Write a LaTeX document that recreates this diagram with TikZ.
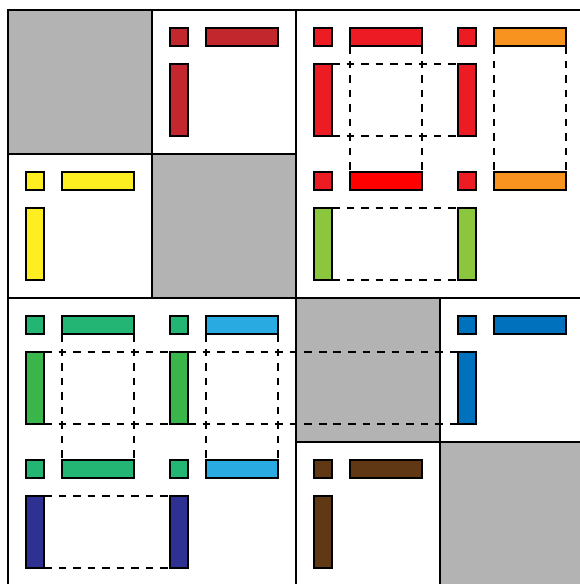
\documentclass[tikz,border=0pt]{standalone}
\usepackage{tikz}
\definecolor{dkred}{HTML}{C1272D}
\definecolor{rd}{HTML}{ED1C24}
\definecolor{brred}{HTML}{FF0000}
\definecolor{orng}{HTML}{F7931E}
\definecolor{ltgreen}{HTML}{8CC63F}
\definecolor{ylw}{HTML}{FCEE21}
\definecolor{teal}{HTML}{22B573}
\definecolor{grn}{HTML}{39B54A}
\definecolor{cyn}{HTML}{29ABE2}
\definecolor{navy}{HTML}{2E3192}
\definecolor{blu}{HTML}{0071BC}
\definecolor{brwn}{HTML}{603813}
\definecolor{cellgray}{HTML}{B3B3B3}

\begin{document}
\begin{tikzpicture}[x=0.5cm, y=-0.5cm,
  blk/.style={draw,line width=1.4pt,inner sep=0pt,outer sep=0pt},
  sq/.style={blk,fill=#1,minimum size=0.5cm},
  hb/.style={blk,fill=#1,minimum width=2cm,minimum height=0.5cm},
  vb/.style={blk,fill=#1,minimum width=0.5cm,minimum height=2cm},
  dsh/.style={line width=1.7pt,dash pattern=on 6pt off 5.5pt},
  grid/.style={line width=2.1pt}]
\useasboundingbox (-0.444,-0.556) rectangle (31.778,31.889);
\clip (-0.444,-0.556) rectangle (31.778,31.889);
\foreach \i in {0,8,16,24}
  \fill[cellgray] (\i,\i) rectangle ++(8,8);
\draw[grid] (0,0) rectangle (32,32);
\draw[grid] (16,0) -- (16,32);
\draw[grid] (0,16) -- (32,16);
\draw[grid] (8,0) -- (8,16);
\draw[grid] (0,8) -- (16,8);
\draw[grid] (24,16) -- (24,32);
\draw[grid] (16,24) -- (32,24);

% top left blocks
\node[sq=dkred] (a1) at (9.5,1.5) {};
\node[hb=dkred] (a2) at (13,1.5) {};
\node[vb=dkred] (a3) at (9.5,5) {};
\node[sq=ylw] (y1) at (1.5,9.5) {};
\node[hb=ylw] (y2) at (5,9.5) {};
\node[vb=ylw] (y3) at (1.5,13) {};

% top right
\node[sq=rd] (r1) at (17.5,1.5) {};
\node[hb=rd] (rh1) at (21,1.5) {};
\node[sq=rd] (r2) at (25.5,1.5) {};
\node[hb=orng] (oh1) at (29,1.5) {};
\node[vb=rd] (rv1) at (17.5,5) {};
\node[vb=rd] (rv2) at (25.5,5) {};
\node[sq=rd] (r3) at (17.5,9.5) {};
\node[hb=brred] (rh2) at (21,9.5) {};
\node[sq=rd] (r4) at (25.5,9.5) {};
\node[hb=orng] (oh2) at (29,9.5) {};
\node[vb=ltgreen] (lv1) at (17.5,13) {};
\node[vb=ltgreen] (lv2) at (25.5,13) {};
\draw[dsh] (rh1.south west) -- (rh2.north west);
\draw[dsh] (rh1.south east) -- (rh2.north east);
\draw[dsh] (rv1.north east) -- (rv2.north west);
\draw[dsh] (rv1.south east) -- (rv2.south west);
\draw[dsh] (oh1.south west) -- (oh2.north west);
\draw[dsh] (oh1.south east) -- (oh2.north east);
\draw[dsh] (lv1.north east) -- (lv2.north west);
\draw[dsh] (lv1.south east) -- (lv2.south west);

% bottom left
\node[sq=teal] (t1) at (1.5,17.5) {};
\node[hb=teal] (th1) at (5,17.5) {};
\node[sq=teal] (t2) at (9.5,17.5) {};
\node[hb=cyn] (ch1) at (13,17.5) {};
\node[vb=grn] (gv1) at (1.5,21) {};
\node[vb=grn] (gv2) at (9.5,21) {};
\node[sq=teal] (t3) at (1.5,25.5) {};
\node[hb=teal] (th2) at (5,25.5) {};
\node[sq=teal] (t4) at (9.5,25.5) {};
\node[hb=cyn] (ch2) at (13,25.5) {};
\node[vb=navy] (nv1) at (1.5,29) {};
\node[vb=navy] (nv2) at (9.5,29) {};

% bottom right
\node[sq=blu] (b1) at (25.5,17.5) {};
\node[hb=blu] (b2) at (29,17.5) {};
\node[vb=blu] (bv) at (25.5,21) {};
\node[sq=brwn] (w1) at (17.5,25.5) {};
\node[hb=brwn] (w2) at (21,25.5) {};
\node[vb=brwn] (w3) at (17.5,29) {};

\draw[dsh] (th1.south west) -- (th2.north west);
\draw[dsh] (th1.south east) -- (th2.north east);
\draw[dsh] (ch1.south west) -- (ch2.north west);
\draw[dsh] (ch1.south east) -- (ch2.north east);
\draw[dsh] (gv1.north east) -- (gv2.north west);
\draw[dsh] (gv1.south east) -- (gv2.south west);
\draw[dsh] (gv2.north east) -- (bv.north west);
\draw[dsh] (gv2.south east) -- (bv.south west);
\draw[dsh] (nv1.north east) -- (nv2.north west);
\draw[dsh] (nv1.south east) -- (nv2.south west);
\end{tikzpicture}
\end{document}
